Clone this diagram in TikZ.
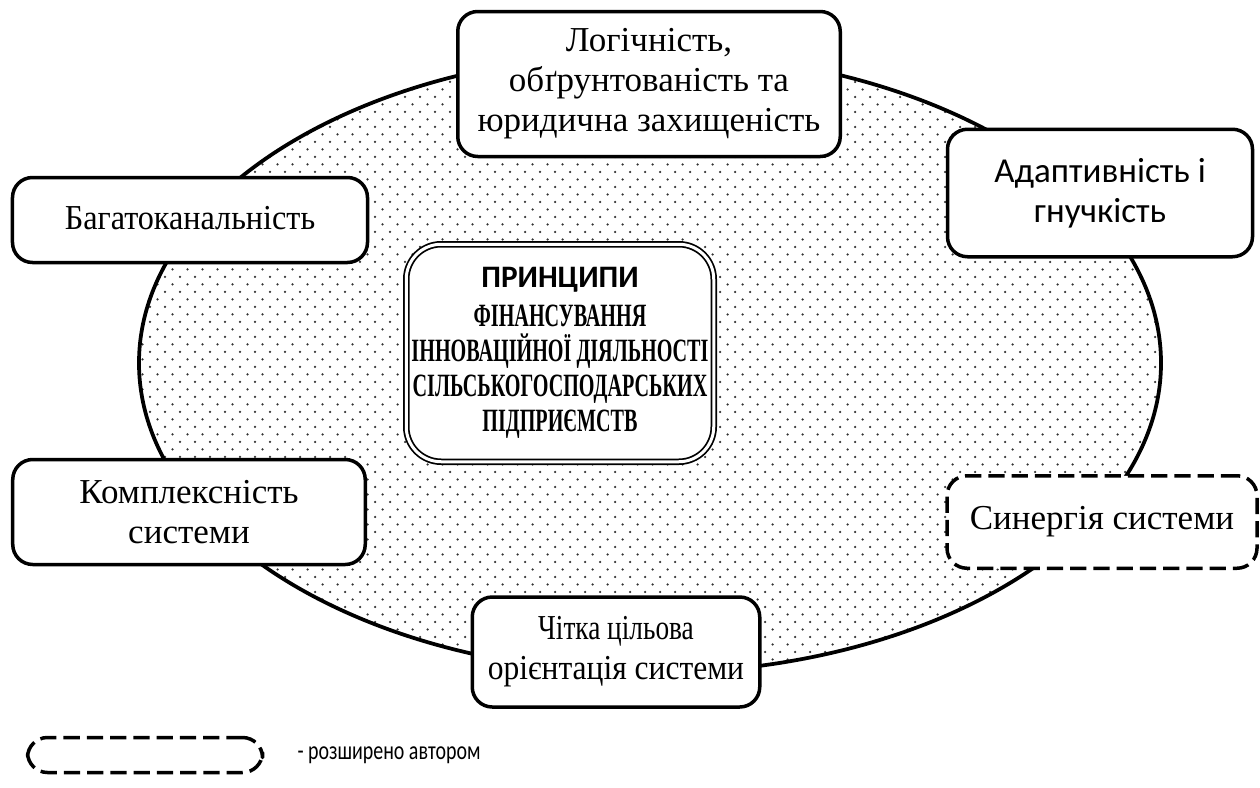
\documentclass[tikz,border=0pt]{standalone}
\usepackage{fontspec}
\usepackage{graphicx}
\setmainfont{Liberation Serif}
\newfontfamily\calibri{Carlito}
\usetikzlibrary{patterns}
% крапкове заповнення еліпса
\pgfdeclarepatternformonly{krapky}{\pgfqpoint{-1pt}{-1pt}}{\pgfqpoint{5pt}{5pt}}{\pgfqpoint{6pt}{6pt}}{
	\pgfpathcircle{\pgfqpoint{0pt}{0pt}}{.5pt}
	\pgfpathcircle{\pgfqpoint{3pt}{3pt}}{.5pt}
	\pgfusepath{fill}}
\newcommand{\vuzko}[2]{\scalebox{#1}[1]{#2}}
\begin{document}
\begin{tikzpicture}[x=0.4pt,y=-0.4pt,line join=round,line cap=round,
	font=\fontsize{14}{16}\selectfont,
	pryntsyp/.style={draw,line width=1.4pt,rounded corners=8pt,fill=white,align=center,inner sep=0pt},
	avtor/.style={pryntsyp,dash pattern=on 6.5pt off 2.8pt,line cap=butt}]
	\useasboundingbox (0,0) rectangle (1260,787);
	% Еліпс з крапковим заповненням
	\draw[line width=1.5pt,pattern=krapky,pattern color=black!80]
		(650,363) ellipse [x radius=204.4pt,y radius=124pt];
	% Центральний блок
	\node[draw,double,double distance=1.2pt,line width=0.7pt,rounded corners=14pt,fill=white,
		align=center,inner sep=0pt,minimum width=123pt,minimum height=87pt,
		font=\bfseries\fontsize{13}{14}\selectfont] (tsentr) at (560,353)
		{{\calibri\fontsize{12.5}{15}\selectfont ПРИНЦИПИ}\\[1.5pt]\vuzko{0.62}{ФІНАНСУВАННЯ}\\
		\vuzko{0.62}{ІННОВАЦІЙНОЇ ДІЯЛЬНОСТІ}\\\vuzko{0.62}{СІЛЬСЬКОГОСПОДАРСЬКИХ}\\\vuzko{0.62}{ПІДПРИЄМСТВ}};
	% Принципи навколо
	\node[pryntsyp,minimum width=153pt,minimum height=58pt] (logika) at (649,84)
		{Логічність,\\обґрунтованість та\\юридична захищеність};
	\node[pryntsyp,minimum width=122pt,minimum height=51pt,font=\calibri\fontsize{14}{16}\selectfont] (adapt) at (1100,193)
		{Адаптивність і\\гнучкість};
	\node[pryntsyp,minimum width=142pt,minimum height=34pt,text depth=2pt] (bagato) at (190,220)
		{\vuzko{0.92}{Багатоканальність}};
	\node[pryntsyp,minimum width=141pt,minimum height=42pt] (kompleks) at (189,512)
		{Комплексність\\системи};
	\node[avtor,minimum width=124pt,minimum height=37pt] (synerg) at (1102,522)
		{Синергія системи};
	\node[pryntsyp,minimum width=115pt,minimum height=44pt] (tsil) at (616,652)
		{\vuzko{0.78}{Чітка цільова}\\\vuzko{0.9}{орієнтація системи}};
	% Умовне позначення
	\node[avtor,minimum width=94pt,minimum height=14pt] (legenda) at (145,755) {};
	\node[anchor=west,inner sep=0pt,font=\calibri\fontsize{10.5}{13}\selectfont] (rozshyr) at (297,755)
		{\vuzko{0.76}{- розширено автором}};
\end{tikzpicture}
\end{document}
